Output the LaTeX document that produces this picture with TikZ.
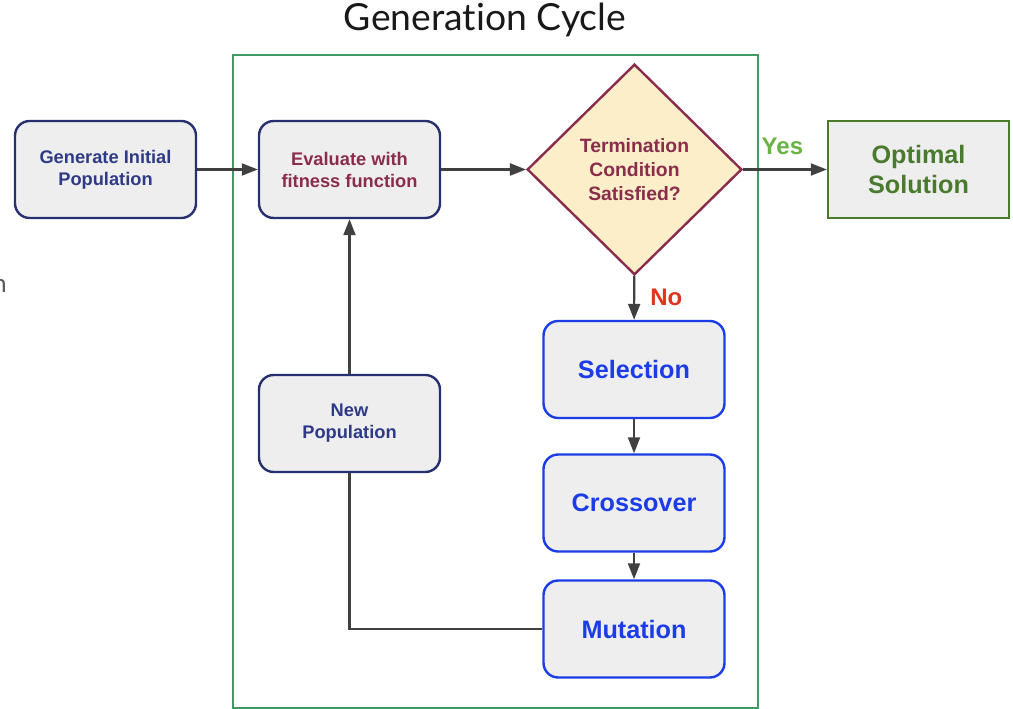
\documentclass[tikz,border=0pt]{standalone}
\usepackage{fontspec}
\setmainfont{Liberation Sans}
\newfontfamily\titlefont[Ligatures=NoCommon]{Lato}
\usetikzlibrary{shapes.geometric,arrows.meta}
\definecolor{frameGreen}{HTML}{3F9A63}
\definecolor{navyLine}{HTML}{27306F}
\definecolor{navyText}{HTML}{2F3A86}
\definecolor{maroon}{HTML}{8A2C4B}
\definecolor{boxFill}{HTML}{EEEEEE}
\definecolor{diamondFill}{HTML}{FCEEC9}
\definecolor{optGreen}{HTML}{4A7A2E}
\definecolor{yesGreen}{HTML}{6AB344}
\definecolor{noRed}{HTML}{E2331F}
\definecolor{opBlue}{HTML}{1B3CE6}
\definecolor{arrowGray}{HTML}{404040}
\tikzset{
  roundbox/.style={draw, line width=1.8pt, fill=boxFill, rounded corners=11pt,
    minimum width=135.75pt, minimum height=72.75pt, align=center, inner sep=0pt},
  navybox/.style={roundbox, draw=navyLine, text=navyText, font=\bfseries\fontsize{13.7}{16.5}\selectfont},
  opbox/.style={roundbox, draw=opBlue, text=opBlue, font=\bfseries\fontsize{18.9}{22}\selectfont},
  flow/.style={draw=arrowGray, line width=1.6pt, -{Triangle[length=12pt,width=9pt]}},
  plainflow/.style={draw=arrowGray, line width=1.6pt},
}
\begin{document}
\begin{tikzpicture}[x=0.75pt,y=-0.75pt]
\useasboundingbox (0,0) rectangle (1013,709);
% title and frame of the generation loop
\node[font=\titlefont\fontsize{28}{32}\selectfont, text=black!90] (title) at (485,20) {Generation Cycle};
\node[font=\titlefont\fontsize{19}{22}\selectfont, text=black!65, anchor=base east, inner sep=0pt] (cut) at (7,292) {n};
\draw[frameGreen, line width=1.2pt] (233,55) rectangle (758,708);

% nodes
\node[navybox] (init) at (105.5,169.5) {Generate Initial\\Population};
\node[navybox, text=maroon] (eval) at (349.5,169.5) {Evaluate with\\fitness function};
\node[diamond, draw=maroon, line width=1.8pt, fill=diamondFill, aspect=1.02,
      minimum width=161pt, minimum height=158pt, inner sep=0pt, align=center,
      text=maroon, font=\bfseries\fontsize{14.5}{18}\selectfont] (term) at (634.5,169.5)
      {Termination\\Condition\\Satisfied?};
\node[draw=optGreen, line width=1.8pt, fill=boxFill, minimum width=135.75pt, minimum height=72.75pt,
      align=center, inner sep=0pt, text=optGreen, font=\bfseries\fontsize{18.9}{22.5}\selectfont]
      (opt) at (918.5,169.5) {Optimal\\Solution};
\node[opbox] (sel) at (634,369.5) {Selection};
\node[opbox] (cross) at (634,503) {Crossover};
\node[opbox] (mut) at (634,629) {Mutation};
\node[navybox] (newpop) at (349.5,423.5) {New\\Population};

% connectors
\draw[flow] (init) -- (eval);
\draw[flow] (eval) -- (term);
\draw[flow] (term) -- node[pos=0.47, above=7pt, text=yesGreen, font=\bfseries\fontsize{18}{20}\selectfont] (yes) {Yes} (opt);
\draw[flow] (term) -- node[pos=0.5, right=8pt, text=noRed, font=\bfseries\fontsize{18}{20}\selectfont] (no) {No} (sel);
\draw[flow] (sel) -- (cross);
\draw[flow] (cross) -- (mut);
\draw[plainflow] (mut.west) -| (newpop.south);
\draw[flow] (newpop) -- (eval);
\end{tikzpicture}
\end{document}
